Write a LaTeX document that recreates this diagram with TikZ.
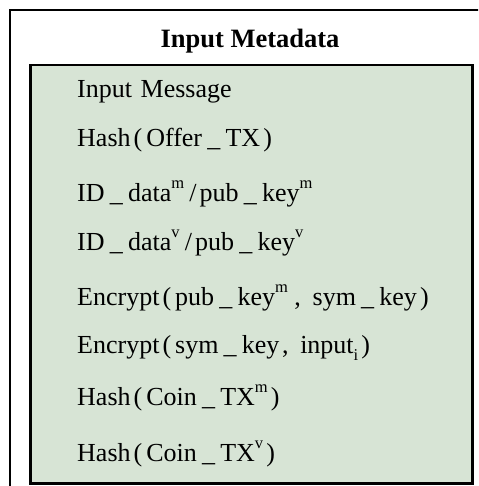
\documentclass[tikz,border=0pt]{standalone}
\usepackage{fontspec}
\setmainfont{Liberation Serif}
\newcommand{\mysup}[1]{\raisebox{0.5em}{\fontsize{16.5}{16.5}\selectfont #1}}
\newcommand{\mysub}[1]{\raisebox{-0.3em}{\fontsize{16.5}{16.5}\selectfont #1}}
\newcommand{\myus}{\hspace{0.2em}\_\hspace{0.2em}}
\newcommand{\lp}{\hspace{0.12em}(\hspace{0.15em}}
\newcommand{\rp}{\hspace{0.12em})}
\definecolor{boxgreen}{RGB}{215,228,213}
\begin{document}
\begin{tikzpicture}[x=1pt,y=1pt,
  itemtext/.style={anchor=base west, inner sep=0pt, font=\fontsize{26}{28}\selectfont},
  titletext/.style={anchor=base, inner sep=0pt, font=\fontsize{26.5}{28}\selectfont\bfseries},
  outerframe/.style={draw=black, line width=2pt},
  innerframe/.style={draw=black, line width=2.5pt, fill=boxgreen}]
\useasboundingbox (0,0) rectangle (478,-486);
\begin{scope}
\clip (0,0) rectangle (478,-486);
\draw[outerframe] (10,-490) -- (10,-10.5) -- (490,-10.5);
\end{scope}
\node[innerframe, minimum width=442pt, minimum height=418pt, anchor=north west, inner sep=0pt] (inner) at (29,-64) {};
\node[titletext] (title) at (250,-48) {Input Metadata};
\node[itemtext] (l1) at (77,-98) {Input\hspace{0.33em}Message};
\node[itemtext] (l2) at (77,-147) {Hash\lp Offer\myus TX\rp};
\node[itemtext] (l3) at (77,-201) {ID\myus data\mysup{m}\hspace{0.2em}/\hspace{0.12em}pub\myus key\mysup{m}};
\node[itemtext] (l4) at (77,-250) {ID\myus data\mysup{v}\hspace{0.2em}/\hspace{0.12em}pub\myus key\mysup{v}};
\node[itemtext] (l5) at (77,-305) {Encrypt\lp pub\myus key\mysup{m}\hspace{0.25em},\hspace{0.45em}sym\myus key\rp};
\node[itemtext] (l6) at (77,-353) {Encrypt\lp sym\myus key\hspace{0.1em},\hspace{0.45em}input\mysub{i}\rp};
\node[itemtext] (l7) at (77,-405) {Hash\lp Coin\myus TX\mysup{m}\rp};
\node[itemtext] (l8) at (77,-461) {Hash\lp Coin\myus TX\mysup{v}\rp};
\end{tikzpicture}
\end{document}
